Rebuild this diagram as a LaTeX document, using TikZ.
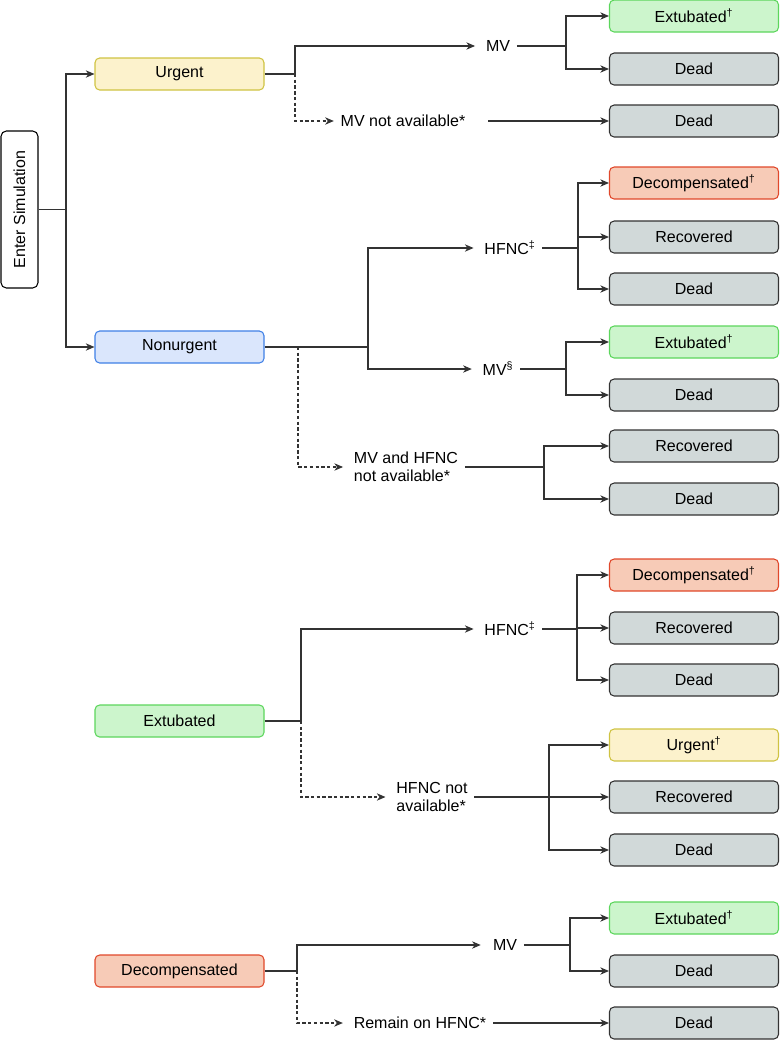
\documentclass[tikz,border=0pt]{standalone}
\usepackage{fontspec}
\setmainfont{Liberation Sans}
\usetikzlibrary{arrows.meta}
\definecolor{urgF}{HTML}{FCF2CC}
\definecolor{urgD}{HTML}{CFC342}
\definecolor{nonF}{HTML}{DAE6FC}
\definecolor{nonD}{HTML}{3F80E6}
\definecolor{extF}{HTML}{CCF5CC}
\definecolor{extD}{HTML}{5CD65C}
\definecolor{decF}{HTML}{F7CBB7}
\definecolor{decD}{HTML}{E0482B}
\definecolor{grayF}{HTML}{D1D9D9}
\definecolor{grayD}{HTML}{333333}
\definecolor{lineC}{HTML}{333333}
\begin{document}
\begin{tikzpicture}[x=0.75pt,y=-0.75pt,
  every node/.style={font=\fontsize{12}{13.5}\selectfont, text=black},
  box/.style={draw, rounded corners=3.5pt, minimum width=126.75pt, minimum height=24pt, inner sep=0pt, line width=0.8pt},
  gbox/.style={box, fill=grayF, draw=grayD},
  ubox/.style={box, fill=urgF, draw=urgD},
  nbox/.style={box, fill=nonF, draw=nonD},
  ebox/.style={box, fill=extF, draw=extD},
  dbox/.style={box, fill=decF, draw=decD},
  lbl/.style={inner xsep=5pt, inner ysep=1pt, align=left},
  conn/.style={draw=lineC, line width=0.8pt},
  arr/.style={conn, -{Stealth[length=6.5pt,width=5.5pt,inset=2pt]}},
  dsh/.style={dash pattern=on 2.5pt off 1.8pt}
]
\useasboundingbox (0,0) rectangle (780,1040);

% entry
\node[draw=black, fill=white, rounded corners=4pt, rotate=90, minimum width=117.75pt, minimum height=27.75pt, inner sep=0pt, line width=0.8pt] (enter) at (19.5,209.5) {Enter Simulation};

% left column
\node[ubox] (urg) at (179.5,74) {Urgent};
\node[nbox] (nonurg) at (179.5,347) {Nonurgent};
\node[ebox] (ext) at (179.5,721) {Extubated};
\node[dbox] (dec) at (179.5,971) {Decompensated};

% right column
\node[ebox] (r1) at (694,16) {Extubated\textsuperscript{†}};
\node[gbox] (r2) at (694,69) {Dead};
\node[gbox] (r3) at (694,121) {Dead};
\node[dbox] (r4) at (694,183) {Decompensated\textsuperscript{†}};
\node[gbox] (r5) at (694,237) {Recovered};
\node[gbox] (r6) at (694,289) {Dead};
\node[ebox] (r7) at (694,342) {Extubated\textsuperscript{†}};
\node[gbox] (r8) at (694,395) {Dead};
\node[gbox] (r9) at (694,446) {Recovered};
\node[gbox] (r10) at (694,499) {Dead};
\node[dbox] (r11) at (694,575) {Decompensated\textsuperscript{†}};
\node[gbox] (r12) at (694,628) {Recovered};
\node[gbox] (r13) at (694,680) {Dead};
\node[ubox] (r14) at (694,745) {Urgent\textsuperscript{†}};
\node[gbox] (r15) at (694,797) {Recovered};
\node[gbox] (r16) at (694,850) {Dead};
\node[ebox] (r17) at (694,918) {Extubated\textsuperscript{†}};
\node[gbox] (r18) at (694,971) {Dead};
\node[gbox] (r19) at (694,1023) {Dead};

% middle labels
\node[lbl] (mv1) at (498,46) {MV};
\node[lbl] (mvna) at (403,121) {MV not available*};
\node[lbl] (hf1) at (510,248) {HFNC\textsuperscript{‡}};
\node[lbl] (mv2) at (498,369) {MV\textsuperscript{§}};
\node[lbl] (mvhf) at (406,467) {MV and HFNC\\not available*};
\node[lbl] (hf2) at (510,629) {HFNC\textsuperscript{‡}};
\node[lbl] (hfna) at (432,797) {HFNC not\\available*};
\node[lbl] (mv3) at (505,945) {MV};
\node[lbl] (rem) at (420,1023) {Remain on HFNC*};

% junctions
\coordinate (j0) at (66,209.5);
\coordinate (j1) at (295,74);
\coordinate (j2) at (566,46);
\coordinate (j3) at (368,347);
\coordinate (j3d) at (298,347);
\coordinate (j4) at (578,248);
\coordinate (j5) at (566,369);
\coordinate (j6) at (544,467);
\coordinate (j7) at (301,721);
\coordinate (j8) at (577,629);
\coordinate (j9) at (549,797);
\coordinate (j10) at (297,971);
\coordinate (j11) at (570,945);

% entry connectors
\draw[conn] (enter.south) -- (j0);
\draw[arr] (j0) |- (urg.west);
\draw[arr] (j0) |- (nonurg.west);

% urgent
\draw[conn] (urg.east) -- (j1);
\draw[arr, shorten >=3pt] (j1) |- (mv1.west);
\draw[arr, dsh] (j1) |- (mvna.west);
\draw[conn] (mv1.east) -- (j2);
\draw[arr] (j2) |- (r1.west);
\draw[arr] (j2) |- (r2.west);
\draw[arr, shorten <=12pt] (mvna.east) -- (r3.west);

% nonurgent
\draw[conn] (nonurg.east) -- (j3);
\draw[arr, shorten >=3pt] (j3) |- (hf1.west);
\draw[arr, shorten >=3pt] (j3) |- (mv2.west);
\draw[arr, dsh, shorten >=3pt] (j3d) |- (mvhf.west);
\draw[conn] (hf1.east) -- (j4);
\draw[arr] (j4) |- (r4.west);
\draw[arr] (j4) |- (r5.west);
\draw[arr] (j4) |- (r6.west);
\draw[conn] (mv2.east) -- (j5);
\draw[arr] (j5) |- (r7.west);
\draw[arr] (j5) |- (r8.west);
\draw[conn] (mvhf.east) -- (j6);
\draw[arr] (j6) |- (r9.west);
\draw[arr] (j6) |- (r10.west);

% extubated
\draw[conn] (ext.east) -- (j7);
\draw[arr, shorten >=3pt] (j7) |- (hf2.west);
\draw[arr, dsh, shorten >=3pt] (j7) |- (hfna.west);
\draw[conn] (hf2.east) -- (j8);
\draw[arr] (j8) |- (r11.west);
\draw[arr] (j8) |- (r12.west);
\draw[arr] (j8) |- (r13.west);
\draw[arr] (hfna.east) -- (r15.west);
\draw[arr] (j9) |- (r14.west);
\draw[arr] (j9) |- (r16.west);

% decompensated
\draw[conn] (dec.east) -- (j10);
\draw[arr, shorten >=4pt] (j10) |- (mv3.west);
\draw[arr, dsh, shorten >=3pt] (j10) |- (rem.west);
\draw[conn] (mv3.east) -- (j11);
\draw[arr] (j11) |- (r17.west);
\draw[arr] (j11) |- (r18.west);
\draw[arr] (rem.east) -- (r19.west);
\end{tikzpicture}
\end{document}
